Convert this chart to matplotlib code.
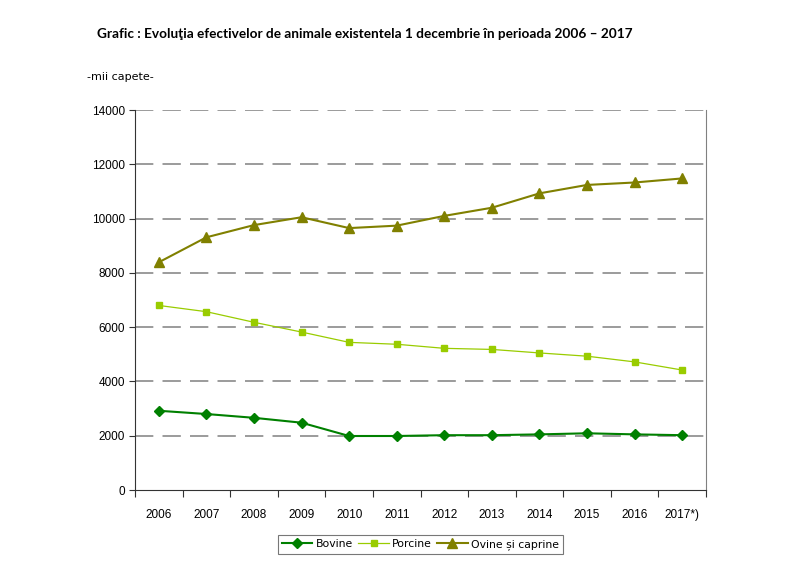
import matplotlib
matplotlib.use("Agg")
import matplotlib.pyplot as plt

# date (mii capete)
ani = ["2006", "2007", "2008", "2009", "2010", "2011", "2012", "2013",
       "2014", "2015", "2016", "2017*)"]
bovine = [2920, 2800, 2660, 2480, 1990, 1990, 2020, 2020, 2050, 2090, 2050, 2020]
porcine = [6800, 6570, 6180, 5820, 5440, 5370, 5220, 5180, 5050, 4930, 4720, 4420]
ovine_caprine = [8390, 9310, 9760, 10050, 9650, 9740, 10100, 10400, 10930, 11240, 11330, 11480]

fig = plt.figure(figsize=(7.88, 5.68), dpi=100)
ax = fig.add_axes([0.1713, 0.1373, 0.7247, 0.669])

x = list(range(len(ani)))

ax.plot(x, bovine, color="#008000", lw=1.5, marker="D", ms=5, label="Bovine", zorder=3)
ax.plot(x, porcine, color="#99CC00", lw=0.9, marker="s", ms=4.5, label="Porcine", zorder=3)
ax.plot(x, ovine_caprine, color="#808000", lw=1.5, marker="^", ms=7, label="Ovine și caprine", zorder=3)

ax.set_xlim(-0.5, len(ani) - 0.5)
ax.set_ylim(0, 14000)
ax.set_yticks(range(0, 14001, 2000))

# gridlines dashed
for v in range(2000, 14001, 2000):
    ax.axhline(v, color="#808080", lw=1.1, ls=(0, (12, 6)), zorder=1)

# ticks at boundaries between categories
ax.set_xticks([i - 0.5 for i in range(len(ani) + 1)])
ax.set_xticklabels([])
ax.set_xticks(x, minor=True)
ax.set_xticklabels(ani, minor=True, fontsize=8.5, family="Liberation Sans")
ax.tick_params(axis="x", which="minor", length=0, pad=14)
ax.tick_params(axis="x", which="major", length=5, direction="out", color="#333333")
ax.tick_params(axis="y", length=4, direction="out", color="#333333", labelsize=8.5, pad=3)
for lab in ax.get_yticklabels():
    lab.set_family("Liberation Sans")

ax.spines["top"].set_visible(False)
ax.spines["right"].set_color("#808080")
ax.spines["left"].set_color("#333333")
ax.spines["bottom"].set_color("#333333")

fig.text(0.123, 0.94, "Grafic : Evoluţia efectivelor de animale existentela 1 decembrie în perioada 2006 – 2017",
         fontsize=9.8, fontweight="bold", family="Lato", va="center")
fig.text(0.11, 0.864, "-mii capete-", fontsize=8, family="DejaVu Sans", va="center")

leg = ax.legend(loc="upper center", bbox_to_anchor=(0.5, -0.105), ncol=3,
                frameon=True, fancybox=False, edgecolor="#555555",
                prop={"family": "DejaVu Sans", "size": 7.8},
                handlelength=2.8, handletextpad=0.3, columnspacing=0.5,
                borderpad=0.35)
leg.get_frame().set_linewidth(0.8)

fig.savefig("out.png", dpi=100)
